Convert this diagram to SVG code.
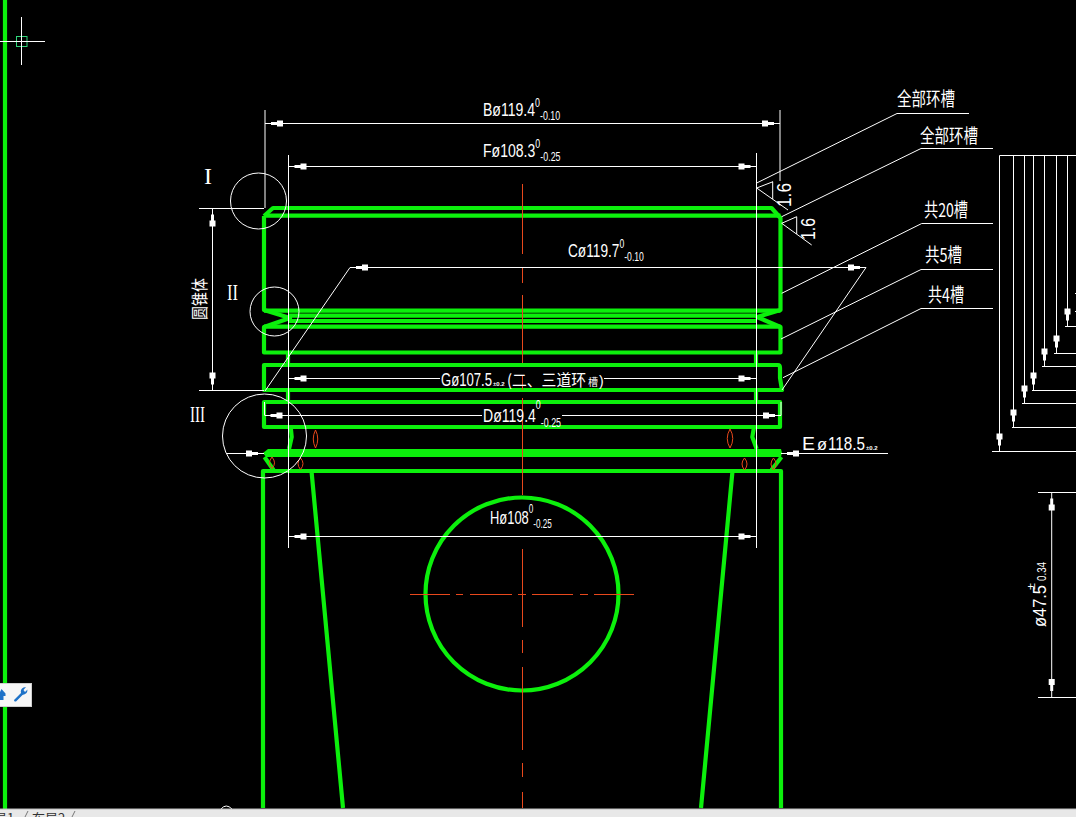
<svg xmlns="http://www.w3.org/2000/svg" width="1076" height="817" viewBox="0 0 1076 817">
<style>
text{font-family:"Liberation Sans","Noto Sans CJK SC",sans-serif;fill:#fff}
.c{font-family:"Noto Sans CJK SC","Liberation Sans",sans-serif}
.n{font-family:"Liberation Serif",serif}
.g{fill:none;stroke:#0cf00c;stroke-width:4.200;stroke-linejoin:round}
.gf{fill:#0cf00c;stroke:none}
.w{fill:none;stroke:#fff;stroke-width:1}
.r{fill:none;stroke:#e8481c;stroke-width:1}
.s{font-size:12px}
</style>
<defs>
<path id="ah" d="M6 -1.500H12V-3H18V3H12V1.500H6Z" fill="#fff"/>
</defs>
<rect id="background" width="1076" height="817" fill="#000"/>

<g id="frame-line"><path class="g" d="M5 0V809"/></g>

<g id="piston-body">
<path class="g" d="M264 216L273 208H771.500L780.500 218V310L757 317L780.500 327V352.500H264V327L290 318L264 310V216"/>
<path class="g" d="M264 215.700H780.500"/>
<path class="g" d="M264 310.700H780.500M288 315.700H757M288 321H757M264 326.700H780.500"/>
<path class="g" d="M288 352.500V365M288 390V402M756 352.500V365M756 390V402"/>
<path class="g" d="M264 365H778Q780 365 780 368V378L782 390H264Z"/>
<path class="g" d="M264 402H780V427H264Z"/>
<path class="g" d="M290.700 427L291.700 437L289 449M754 427L752.300 437L756.700 449"/>
<polygon class="gf" points="263,453 268,449 781,449 782,453 781,457 266,457"/>
<path class="g" d="M264.500 457L273.500 470M781.500 457L771.500 470"/>
<path class="g" d="M263 808V471H781V808"/>
<path class="g" d="M311.500 471L343 808M732.500 471L701 808"/>
</g>

<g id="pin-bore"><circle class="g" cx="522" cy="594" r="96.500"/></g>

<g id="centre-lines">
<path class="r" d="M522.500 184V254M522.500 268V283M522.500 295V363M522.500 375V390M522.500 398V495M522.500 549V627M522.500 640V653M522.500 667V750M522.500 763V777M522.500 792V808"/>
<path class="r" d="M410 594.500H450M456 594.500H463M470 594.500H512M518 594.500H526M532 594.500H573M580 594.500H588M594 594.500H634"/>
</g>

<g id="red-marks">
<path class="r" d="M315.500 430Q311 439 315.500 448Q320 439 315.500 430Z"/>
<path class="r" d="M730 429Q724.500 438.500 730 448Q735.500 438.500 730 429Z"/>
<path class="r" d="M272 457Q267 463 272 468.500Q277 463 272 457Z"/>
<path class="r" d="M300.500 458Q295.500 463.500 300.500 469.500Q305.500 463.500 300.500 458Z"/>
<path class="r" d="M744.500 458Q739.500 464 744.500 470Q749.500 464 744.500 458Z"/>
<path class="r" d="M773.500 458Q768.500 464 773.500 470Q778.500 464 773.500 458Z"/>
</g>

<g id="detail-circles">
<circle class="w" cx="258.500" cy="201" r="28"/>
<circle class="w" cx="274.500" cy="311.500" r="24.500"/>
<circle class="w" cx="264.500" cy="436" r="42"/>
</g>

<g id="connectors">
<path class="w" d="M265 110V208M780 110V181M288.500 155V548M756.500 153V548M265 123.500H780M288.500 166.500H756.500"/>
<path class="w" d="M350 267.500H866M350 267.500L265 391M866 267.500L782 390"/>
<path class="w" d="M288.500 378.500H440M604 378.500H756.500M265 415.500H482M562 415.500H781M264.500 402V415.500M781 402V415.500"/>
<path class="w" d="M781 453.500H888M226 453.500H264M288.500 536.500H756.500"/>
<path class="w" d="M199 208.500H264M199 390.500H264M212.500 208.500V390.500"/>
<path class="w" d="M756.700 183L897 113.500H969M781.700 216.700L921 148.500H993M781.700 293.300L921.700 223.500H993M781 339L921 269.500H993M783 377.700L921 308.500H993"/>
<path class="w" d="M773 181.700L756.700 188L788 210M772.700 181.700V199M796.700 216.700L781.700 223.300L811.700 245M796.700 216.700V234"/>
<path class="w" d="M999.500 155.500H1076M999.500 155.500V451.500M1013.500 155.500V427.500M1024.500 155.500V403.500M1033.500 155.500V390.500M1044.500 155.500V366.500M1056.500 155.500V353.500M1067.500 155.500V326.500"/>
<path class="w" d="M992 451.500H1076M1012 427.500H1076M1022 403.500H1076M1032 390.500H1076M1042 366.500H1076M1054 353.500H1076M1065 326.500H1076M1075 293.500H1076M1075 311.500H1076"/>
<path class="w" d="M1051.700 492.500V697M1038 492.500H1076M1038 697.500H1076"/>
<use href="#ah" transform="translate(265,123.500)"/>
<use href="#ah" transform="translate(780,123.500) rotate(180)"/>
<use href="#ah" transform="translate(288.500,166.500)"/>
<use href="#ah" transform="translate(756.500,166.500) rotate(180)"/>
<use href="#ah" transform="translate(350,267.500)"/>
<use href="#ah" transform="translate(866,267.500) rotate(180)"/>
<use href="#ah" transform="translate(288.500,378.500)"/>
<use href="#ah" transform="translate(756.500,378.500) rotate(180)"/>
<use href="#ah" transform="translate(264.500,415.500)"/>
<use href="#ah" transform="translate(781,415.500) rotate(180)"/>
<use href="#ah" transform="translate(781,453.500)"/>
<use href="#ah" transform="translate(264,453.500) rotate(180)"/>
<use href="#ah" transform="translate(288.500,536.500)"/>
<use href="#ah" transform="translate(756.500,536.500) rotate(180)"/>
<use href="#ah" transform="translate(212.500,208.500) rotate(90)"/>
<use href="#ah" transform="translate(212.500,390.500) rotate(-90)"/>
<use href="#ah" transform="translate(999.500,451.500) rotate(-90)"/>
<use href="#ah" transform="translate(1013.500,427.500) rotate(-90)"/>
<use href="#ah" transform="translate(1024.500,403.500) rotate(-90)"/>
<use href="#ah" transform="translate(1033.500,390.500) rotate(-90)"/>
<use href="#ah" transform="translate(1044.500,366.500) rotate(-90)"/>
<use href="#ah" transform="translate(1056.500,353.500) rotate(-90)"/>
<use href="#ah" transform="translate(1067.500,326.500) rotate(-90)"/>
<use href="#ah" transform="translate(1051.700,492.500) rotate(90)"/>
<use href="#ah" transform="translate(1051.700,697) rotate(-90)"/>
</g>

<g id="dimension-labels">
<text transform="translate(483,116) scale(.74,1)" font-size="19">Bø119.4<tspan class="s" dy="-9">0</tspan><tspan class="s" dy="13">-0.10</tspan></text>
<text transform="translate(483,157) scale(.74,1)" font-size="19">Fø108.3<tspan class="s" dy="-9">0</tspan><tspan class="s" dy="13">-0.25</tspan></text>
<text transform="translate(568,257) scale(.72,1)" font-size="19">Cø119.7<tspan class="s" dy="-9">0</tspan><tspan class="s" dy="13">-0.10</tspan></text>
<text transform="translate(483,422) scale(.74,1)" font-size="19">Dø119.4<tspan class="s" dy="-13">0</tspan><tspan class="s" dy="18">-0.25</tspan></text>
<text transform="translate(490,524) scale(.68,1)" font-size="19">Hø108<tspan class="s" dy="-11">0</tspan><tspan class="s" dy="15">-0.25</tspan></text>
<text transform="translate(441,386)"><tspan font-size="19" textLength="51" lengthAdjust="spacingAndGlyphs">Gø107.5</tspan><tspan x="52" font-size="6" font-weight="bold">±0.2</tspan><tspan class="c" x="66" font-size="16" textLength="79" lengthAdjust="spacingAndGlyphs">(二、三道环</tspan><tspan class="c" x="147" font-size="10">槽</tspan><tspan x="158" font-size="14">)</tspan></text>
<text transform="translate(802,450)"><tspan font-size="19" textLength="13" lengthAdjust="spacingAndGlyphs">E</tspan><tspan x="15" font-size="17" textLength="10" lengthAdjust="spacingAndGlyphs">ø</tspan><tspan x="26" font-size="19" textLength="37" lengthAdjust="spacingAndGlyphs">118.5</tspan><tspan x="64" font-size="6" font-weight="bold">±0.2</tspan></text>
<text transform="translate(791,207) rotate(-90)" font-size="20" textLength="24" lengthAdjust="spacingAndGlyphs">1.6</text>
<text transform="translate(815,240) rotate(-90)" font-size="20" textLength="22" lengthAdjust="spacingAndGlyphs">1.6</text>
<text transform="translate(1046,627) rotate(-90)" font-size="19" textLength="42" lengthAdjust="spacingAndGlyphs">ø47.5</text>
<text transform="translate(1035,590) rotate(-90)" font-size="10" textLength="7" lengthAdjust="spacingAndGlyphs">±</text>
<text transform="translate(1046,581) rotate(-90)" font-size="13" textLength="19" lengthAdjust="spacingAndGlyphs">0.34</text>
</g>

<g id="note-labels">
<text class="c" x="897" y="106" font-size="19" textLength="58" lengthAdjust="spacingAndGlyphs">全部环槽</text>
<text class="c" x="920" y="143" font-size="19" textLength="58" lengthAdjust="spacingAndGlyphs">全部环槽</text>
<text class="c" x="924" y="217" font-size="19" textLength="44" lengthAdjust="spacingAndGlyphs">共20槽</text>
<text class="c" x="925" y="262" font-size="19" textLength="37" lengthAdjust="spacingAndGlyphs">共5槽</text>
<text class="c" x="928" y="302" font-size="19" textLength="36" lengthAdjust="spacingAndGlyphs">共4槽</text>
<text class="c" transform="translate(206,320) rotate(-90)" font-size="17" textLength="42" lengthAdjust="spacingAndGlyphs">圆锥体</text>
<text class="n" x="204" y="184" font-size="24" textLength="8" lengthAdjust="spacingAndGlyphs">I</text>
<text class="n" x="227" y="300" font-size="24" textLength="11" lengthAdjust="spacingAndGlyphs">II</text>
<text class="n" x="190" y="422" font-size="24" textLength="15" lengthAdjust="spacingAndGlyphs">III</text>
</g>

<g id="cad-crosshair">
<rect x="16.500" y="36.500" width="10.500" height="10" fill="none" stroke="#2fd67a" stroke-width="1"/>
<path class="w" d="M21.500 17V65M0 41.500H45"/>
</g>

<g id="toolbar">
<rect x="-1" y="683.500" width="32.500" height="23" fill="#f6f6f6" stroke="#cfcfcf"/>
<path d="M0 692L1.500 689L5.500 693.500V696H3.500V700H0Z" fill="#1e72c8"/>
<path d="M14 700L21 693Q20 689 23.500 687.500L26 687L23.500 690L25 692L27.500 689.500Q27.500 694 22.500 695L16 701.500Q14 702 14 700Z" fill="#1e72c8"/>
</g>

<g id="status-bar">
<path class="w" d="M221 809Q226 803 232 809"/>
<rect x="0" y="809" width="1076" height="8" fill="#e8e8e8"/>
<path d="M0 809H1076" stroke="#bbb" stroke-width="1"/>
<text class="c" x="-6" y="823" font-size="13" style="fill:#333">局1</text>
<text class="c" x="32" y="823" font-size="13" style="fill:#333">布局2</text>
<path d="M25 817L28 811M72 817L75 811" stroke="#777" stroke-width="1" fill="none"/>
</g>
</svg>
